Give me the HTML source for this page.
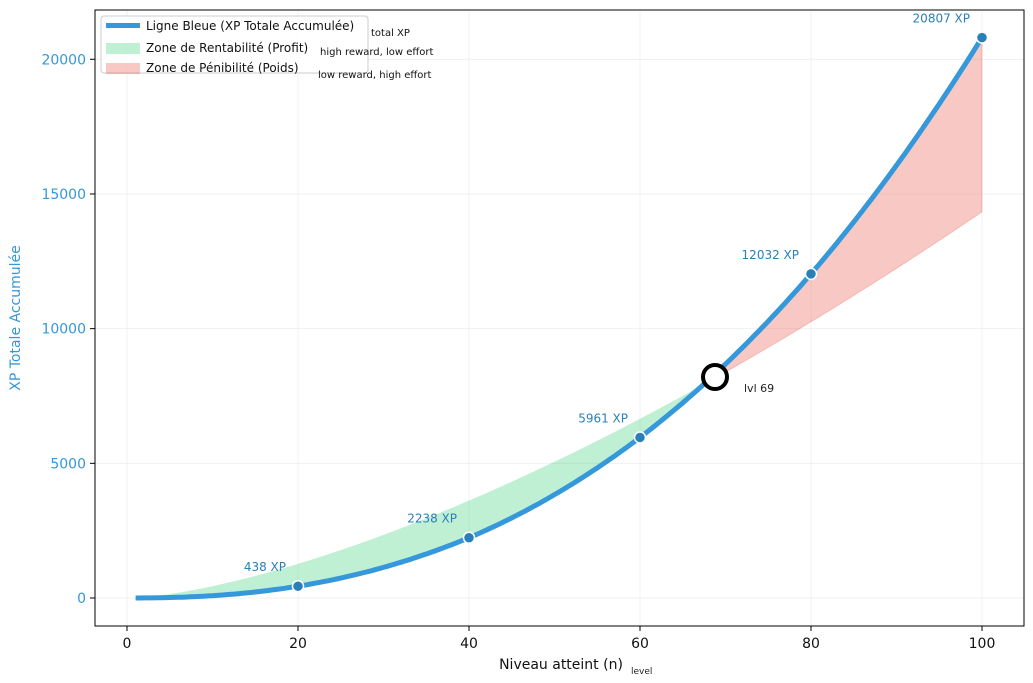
<!DOCTYPE html>
<html><head><meta charset="utf-8"><style>
body{margin:0;background:#fff;}
svg{display:block;font-family:"DejaVu Sans","Liberation Sans",sans-serif;}
</style></head><body>
<svg id="s" width="1033" height="683" xmlns="http://www.w3.org/2000/svg">
<g id="grid" stroke="#eee" stroke-width="0.8"></g>
<path id="green" fill="#2ecc71" fill-opacity="0.3" stroke="none"/>
<path id="red" fill="#e74c3c" fill-opacity="0.3" stroke="#e74c3c" stroke-opacity="0.25"/>
<path id="blue" fill="none" stroke="#3498db" stroke-width="5"/>
<g id="pts"></g>
<circle cx="715" cy="377" r="12" fill="#fff" stroke="#000" stroke-width="4"/>
<text x="744" y="392" font-size="11" fill="#222">lvl 69</text>
<rect x="95" y="10" width="929" height="616" fill="none" stroke="#000" stroke-width="1"/>
<g id="ticks" font-size="14"></g>
<text x="561" y="669" font-size="14" text-anchor="middle" fill="#111">Niveau atteint (n)</text>
<text x="631" y="674" font-size="9" fill="#222">level</text>
<text transform="translate(20,318) rotate(-90)" font-size="14" text-anchor="middle" fill="#3498db">XP Totale Accumulée</text>
<rect x="101" y="16" width="267" height="57" rx="3" fill="#fff" fill-opacity="0.85" stroke="#ccc"/>
<rect x="106" y="23" width="34" height="5" fill="#3498db"/>
<rect x="106" y="43" width="34" height="11" fill="#2ecc71" fill-opacity="0.3"/>
<rect x="106" y="63" width="34" height="11" fill="#e74c3c" fill-opacity="0.3"/>
<text x="146" y="30" font-size="12" fill="#111">Ligne Bleue (XP Totale Accumulée)</text>
<text x="146" y="52" font-size="12" fill="#111">Zone de Rentabilité (Profit)</text>
<text x="146" y="72" font-size="12" fill="#111">Zone de Pénibilité (Poids)</text>
<text x="371" y="36" font-size="10" fill="#111">total XP</text>
<text x="320" y="55" font-size="10" fill="#111">high reward, low effort</text>
<text x="318" y="78" font-size="10" fill="#111">low reward, high effort</text>
</svg>
<script>
const X=n=>127+n*8.55, Y=v=>598-v*0.026935;
const P=[[20,438],[40,2238],[60,5961],[80,12032],[100,20807]];
function f(n){
 if(n<=20)return 438*Math.pow(n/20,2.35);
 let i=0;while(i<P.length-2&&n>P[i+1][0])i++;
 const a=P[i],b=P[i+1];
 const t=(Math.log(n)-Math.log(a[0]))/(Math.log(b[0])-Math.log(a[0]));
 return Math.exp(Math.log(a[1])+t*(Math.log(b[1])-Math.log(a[1])));
}
const g=n=>14.35*Math.pow(n,1.5)-14.35;
let b="";
for(let n=1;n<=100;n+=0.5){b+=(n==1?"M":"L")+X(n).toFixed(1)+","+Y(f(n)).toFixed(1);}
let gp="M"+X(1)+","+Y(0);
for(let n=1;n<=69;n+=0.5)gp+="L"+X(n).toFixed(1)+","+Y(g(n)).toFixed(1);
for(let n=69;n>=1;n-=0.5)gp+="L"+X(n).toFixed(1)+","+Y(f(n)).toFixed(1);
let rp="M"+X(69)+","+Y(f(69));
for(let n=69;n<=100;n+=0.5)rp+="L"+X(n).toFixed(1)+","+Y(f(n)).toFixed(1);
for(let n=100;n>=69;n-=0.5)rp+="L"+X(n).toFixed(1)+","+Y(g(n)).toFixed(1);
document.getElementById("blue").setAttribute("d",b);
document.getElementById("green").setAttribute("d",gp+"Z");
document.getElementById("red").setAttribute("d",rp+"Z");
const ns="http://www.w3.org/2000/svg";
function el(par,tag,a,txt){const e=document.createElementNS(ns,tag);for(const k in a)e.setAttribute(k,a[k]);if(txt)e.textContent=txt;document.getElementById(par).appendChild(e);}
for(let n=0;n<=100;n+=20){el("grid","line",{x1:X(n),x2:X(n),y1:10,y2:626});el("ticks","line",{x1:X(n),x2:X(n),y1:626,y2:631,stroke:"#000"});el("ticks","text",{x:X(n),y:648,"text-anchor":"middle",fill:"#111"},String(n));}
for(let v=0;v<=20000;v+=5000){el("grid","line",{x1:95,x2:1024,y1:Y(v),y2:Y(v)});el("ticks","line",{x1:90,x2:95,y1:Y(v),y2:Y(v),stroke:"#000"});el("ticks","text",{x:86,y:Y(v)+5,"text-anchor":"end",fill:"#3498db"},String(v));}
P.forEach(p=>{el("pts","circle",{cx:X(p[0]),cy:Y(p[1]),r:5.5,fill:"#2980b9",stroke:"#fff","stroke-width":1.5});
el("pts","text",{x:X(p[0])-12,y:Y(p[1])-15,"text-anchor":"end","font-size":12,fill:"#2980b9"},p[1]+" XP");});
</script>
</body></html>
